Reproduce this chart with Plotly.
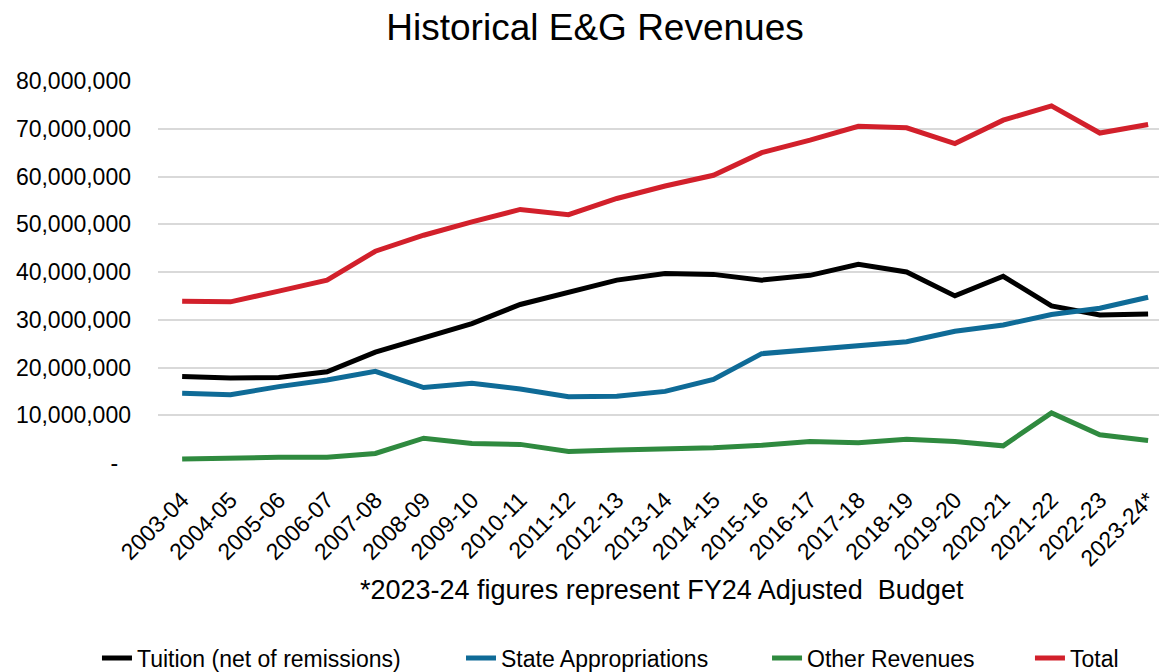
import plotly.graph_objects as go

years = ["2003-04", "2004-05", "2005-06", "2006-07", "2007-08", "2008-09", "2009-10",
         "2010-11", "2011-12", "2012-13", "2013-14", "2014-15", "2015-16", "2016-17",
         "2017-18", "2018-19", "2019-20", "2020-21", "2021-22", "2022-23", "2023-24*"]

tuition = [18.1, 17.8, 17.9, 19.1, 23.2, 26.3, 29.2, 33.2, 35.8, 38.3, 39.7, 39.5, 38.3,
           39.3, 41.6, 40.0, 35.0, 39.1, 32.9, 31.0, 31.2]
state = [14.6, 14.3, 16.0, 17.4, 19.2, 15.8, 16.7, 15.5, 13.9, 14.0, 15.0, 17.5, 22.9,
         23.8, 24.7, 25.4, 27.6, 28.9, 31.1, 32.4, 34.7]
other = [0.84, 1.1, 1.2, 1.2, 2.0, 5.2, 4.1, 3.9, 2.4, 2.7, 2.9, 3.2, 3.7, 4.5, 4.25,
         4.95, 4.5, 3.6, 10.5, 5.9, 4.7]
total = [33.9, 33.75, 36.0, 38.3, 44.35, 47.7, 50.5, 53.1, 52.0, 55.4, 58.0, 60.25, 65.0,
         67.6, 70.5, 70.2, 66.9, 71.8, 74.8, 69.1, 70.9]

series_names = ["Tuition (net of remissions)", "State Appropriations", "Other Revenues", "Total"]
series_values = [tuition, state, other, total]
series_colors = ["#000000", "#0f6b97", "#2f8a3f", "#d2202b"]
legend_ids = ["legend", "legend2", "legend3", "legend4"]
legend_x = [-0.0606, 0.3009, 0.6048, 0.8659]

ytick_vals = [0, 10e6, 20e6, 30e6, 40e6, 50e6, 60e6, 70e6, 80e6]
ytick_text = ["-\u00a0\u00a0", "10,000,000", "20,000,000", "30,000,000", "40,000,000",
              "50,000,000", "60,000,000", "70,000,000", "80,000,000"]

FONT = "Liberation Sans, Arial, sans-serif"

fig = go.Figure()
for name, vals, color, lid in zip(series_names, series_values, series_colors, legend_ids):
    fig.add_trace(go.Scatter(
        x=list(range(len(years))), y=[v * 1e6 for v in vals], name=name,
        mode="lines", line=dict(color=color, width=5), legend=lid,
    ))

legend_common = dict(orientation="h", yref="container", y=0.0211, yanchor="middle",
                     xanchor="left", font=dict(family=FONT, size=23, color="#000000"),
                     bgcolor="rgba(0,0,0,0)")
layout_legends = {lid: dict(x=lx, **legend_common) for lid, lx in zip(legend_ids, legend_x)}

fig.update_layout(
    width=1159, height=664,
    paper_bgcolor="white", plot_bgcolor="white",
    margin=dict(l=150, r=2, t=73, b=209),
    title=dict(text="Historical E&G Revenues", x=0.5065, xanchor="center", y=0.971,
               yanchor="middle", font=dict(family=FONT, size=37, color="#000000")),
    font=dict(family=FONT, color="#000000"),
    showlegend=True,
    **layout_legends,
)
fig.update_xaxes(
    tickmode="array", tickvals=list(range(len(years))), ticktext=years,
    tickangle=-45, range=[-0.5, 20.35], showgrid=False, zeroline=False,
    showline=False, ticks="", tickfont=dict(size=23), automargin=False,
    ticklabelstandoff=18,
)
fig.update_yaxes(
    tickmode="array", tickvals=ytick_vals, ticktext=ytick_text, range=[0, 80e6],
    showgrid=True, gridcolor="#d9d9d9", gridwidth=1.5, zeroline=False,
    showline=False, ticks="", tickfont=dict(size=23), ticklabelstandoff=26,
    automargin=False,
)
fig.add_annotation(
    text="*2023-24 figures represent FY24 Adjusted\u00a0 Budget", xref="paper", yref="paper",
    x=0.5005, y=-0.3325, xanchor="center", yanchor="middle", showarrow=False,
    font=dict(size=27),
)
fig.write_html("out.html")
